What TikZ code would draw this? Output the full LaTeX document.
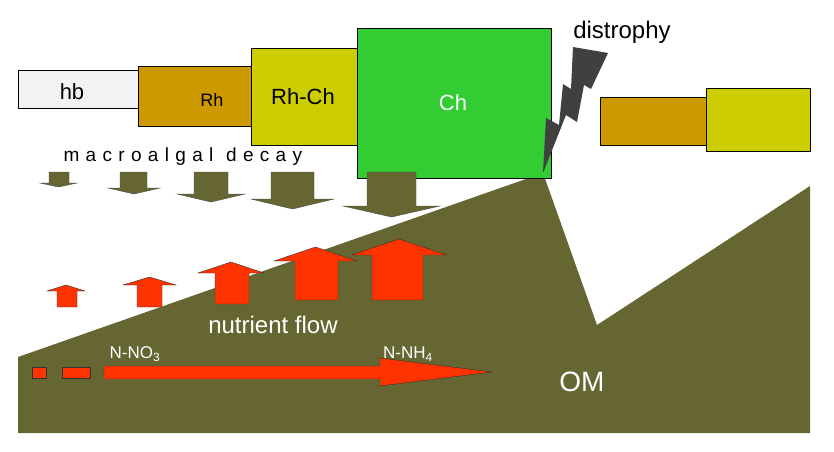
\documentclass[tikz,border=0pt]{standalone}
\usepackage{fontspec}
\setmainfont{Liberation Sans}
\usetikzlibrary{positioning}
\definecolor{olive}{HTML}{666633}
\definecolor{brownbox}{HTML}{CC9900}
\definecolor{yellowbox}{HTML}{CCCC00}
\definecolor{greenbox}{HTML}{33CC33}
\definecolor{redflow}{HTML}{FF3300}
\tikzset{
  box/.style={draw=black,thin,anchor=north west,inner sep=0pt},
  decay/.style={fill=olive,draw=black!70,thin},
  flow/.style={fill=redflow,draw=black!80,thin},
  wtext/.style={text=white,inner sep=0pt}
}
\begin{document}
\begin{tikzpicture}[x=1pt,y=-1pt]
  \useasboundingbox (0,0) rectangle (834,451);
  % ground
  \fill[olive] (18,357) -- (543,173) -- (597,325) -- (810,186) -- (810,433) -- (18,433) -- cycle;
  % boxes
  \node[box,fill=black!5,minimum width=120pt,minimum height=38pt] (hb) at (18,70) {};
  \node[box,fill=brownbox,minimum width=113pt,minimum height=60pt] (rh) at (138,66) {};
  \node[box,fill=yellowbox,minimum width=106pt,minimum height=97pt] (rhch) at (251,48) {};
  \node[box,fill=greenbox,minimum width=194pt,minimum height=150pt] (ch) at (357,28) {};
  \node[box,fill=brownbox,minimum width=106pt,minimum height=48pt] (rh2) at (600,97) {};
  \node[box,fill=yellowbox,minimum width=104pt,minimum height=63pt] (rhch2) at (706,88) {};
  \node[font=\fontsize{22}{22}\selectfont] at (72,92) {hb};
  \node[font=\fontsize{18}{18}\selectfont\rmfamily] at (212,100) {Rh};
  \node[font=\fontsize{22}{22}\selectfont] at (303,97) {Rh-Ch};
  \node[wtext,font=\fontsize{22}{22}\selectfont] at (453,103) {Ch};
  % lightning
  \fill[black!75] (573,47) -- (608,53) -- (591,89) -- (584,85) -- (577,122) -- (566,115)
    -- (543,173) -- (546,118) -- (559,125) -- (563,84) -- (571,89) -- cycle;
  \node[font=\fontsize{24}{24}\selectfont] (dis) at (622,32) {distrophy};
  \node[font=\fontsize{19}{19}\selectfont,anchor=west] (decaytxt) at (60,157)
    {m\,\,a\,\,c\,\,r\,\,o\,\,a\,\,l\,\,g\,\,a\,\,l\,\,\,\,d\,\,e\,\,c\,\,a\,\,y};
  % decay arrows: head left, shaft left, shaft right, head right, shaft end, tip
  \foreach \hl/\sl/\sr/\hr/\se/\tp in {40/49/69/77/183/187, 108/120/147/160/188/194,
      177/194/228/245/194/202, 251/271/314/334/199/209, 343/367/416/440/206/217}
    \draw[decay] (\sl,172) -- (\sr,172) -- (\sr,\se) -- (\hr,\se) -- ({(\hl+\hr)/2},\tp)
      -- (\hl,\se) -- (\sl,\se) -- cycle;
  % nutrient arrows: head left, shaft left, shaft right, head right, tip, head base, bottom
  \foreach \hl/\sl/\sr/\hr/\tp/\hb/\bt in {47/57/77/85/285/291/307, 123/137/162/176/277/285/307,
      198/215/249/264/262/273/304, 274/295/338/357/247/261/300, 351/372/423/447/239/255/300}
    \draw[flow] (\sl,\bt) -- (\sl,\hb) -- (\hl,\hb) -- ({(\hl+\hr)/2},\tp) -- (\hr,\hb)
      -- (\sr,\hb) -- (\sr,\bt) -- cycle;
  \node[wtext,font=\fontsize{24}{24}\selectfont] (nf) at (273,325) {nutrient flow};
  % N flow
  \draw[flow] (32,367) rectangle (46,378);
  \draw[flow] (62,367) rectangle (90,378);
  \draw[flow] (104,366) -- (380,366) -- (380,358) -- (492,372) -- (380,386) -- (380,379)
    -- (104,379) -- cycle;
  \node[wtext,font=\fontsize{17}{17}\selectfont] (no3) at (135,354) {N-NO\textsubscript{3}};
  \node[wtext,font=\fontsize{17}{17}\selectfont] (nh4) at (408,354) {N-NH\textsubscript{4}};
  \node[wtext,font=\fontsize{28}{28}\selectfont] (om) at (582,382) {OM};
\end{tikzpicture}
\end{document}
